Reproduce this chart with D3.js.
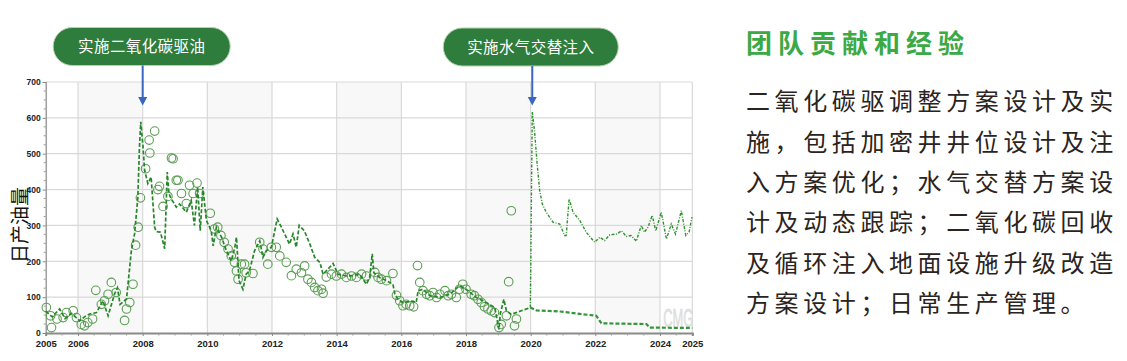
<!DOCTYPE html>
<html><head><meta charset="utf-8">
<script src="https://cdn.jsdelivr.net/npm/d3@7"></script>
<style>
html,body{margin:0;padding:0;background:#fff;}
svg{display:block;}
</style></head>
<body>
<svg id="chart" width="1127" height="361"></svg>
<script>
// ---------- data ----------
const yTicks = [0,100,200,300,400,500,600,700];
const xTicks = [2005,2006,2008,2010,2012,2014,2016,2018,2020,2022,2024,2025];
const yTitle = "日产油量";
const callouts = ["实施二氧化碳驱油","实施水气交替注入"];
const calloutYears = [2008.0, 2020.05];

const simYears = [2005.0,2005.2,2005.43,2005.6,2005.8,2006.05,2006.2,2006.36,2006.57,2006.77,2006.93,2007.13,2007.22,2007.3,2007.5,2007.55,2007.65,2007.75,2007.85,2007.9,2007.94,2008.01,2008.06,2008.16,2008.26,2008.37,2008.42,2008.55,2008.68,2008.76,2008.81,2008.88,2009.04,2009.14,2009.35,2009.5,2009.6,2009.7,2009.78,2009.86,2009.97,2010.12,2010.18,2010.28,2010.44,2010.59,2010.74,2010.85,2010.9,2010.98,2011.1,2011.2,2011.3,2011.46,2011.62,2011.72,2011.82,2011.98,2012.16,2012.29,2012.44,2012.54,2012.65,2012.75,2012.84,2013.0,2013.17,2013.32,2013.48,2013.58,2013.73,2013.89,2014.04,2014.3,2014.5,2014.71,2014.92,2015.02,2015.1,2015.15,2015.33,2015.54,2015.74,2015.8,2015.9,2016.05,2016.36,2016.46,2016.52,2016.67,2016.88,2017.19,2017.5,2017.8,2018.0,2018.32,2018.63,2018.89,2019.02,2019.06,2019.17,2019.25,2019.4,2019.71,2019.99];
const simOil = [61,45,67,40,55,34,45,53,57,90,48,109,126,80,95,140,230,277,378,518,589,519,454,417,435,295,283,281,235,449,389,375,351,360,337,370,300,407,285,407,314,285,243,295,267,229,201,239,267,146,122,164,173,229,257,211,229,239,318,295,267,248,276,239,300,285,248,211,197,164,178,194,164,159,160,164,136,155,221,168,155,146,136,108,94,85,89,85,118,122,104,99,108,132,122,99,85,71,10,53,94,62,52,62,71];

const baseYears = [2019.99,2020.18,2020.9,2022.03,2022.19,2023.58,2023.68,2025.0];
const baseOil = [71,63,60,48,27,25,15,14];

const wagYears = [2019.99,2020.05,2020.12,2020.2,2020.28,2020.36,2020.48,2020.69,2020.9,2021.05,2021.1,2021.19,2021.31,2021.52,2021.72,2021.98,2022.14,2022.29,2022.45,2022.66,2022.81,2022.96,2023.11,2023.27,2023.42,2023.52,2023.63,2023.76,2023.87,2024.04,2024.2,2024.35,2024.48,2024.66,2024.8,2024.9,2024.99];
const wagOil = [71,617,564,472,397,360,337,309,304,272,272,374,337,314,281,253,267,258,274,276,285,269,272,256,300,281,295,328,285,337,262,304,276,341,272,281,323];

const obsYears = [2005.02,2005.15,2005.18,2005.35,2005.54,2005.64,2005.85,2005.95,2006.1,2006.2,2006.3,2006.45,2006.55,2006.72,2006.82,2006.93,2007.03,2007.18,2007.44,2007.5,2007.6,2007.7,2007.78,2007.86,2007.93,2008.09,2008.2,2008.22,2008.37,2008.47,2008.52,2008.63,2008.78,2008.89,2008.94,2009.04,2009.09,2009.2,2009.35,2009.45,2009.56,2009.68,2009.76,2010.09,2010.22,2010.32,2010.42,2010.52,2010.64,2010.74,2010.84,2010.9,2010.95,2011.05,2011.15,2011.2,2011.41,2011.62,2011.72,2011.87,2011.98,2012.13,2012.24,2012.44,2012.6,2012.75,2012.91,2013.01,2013.11,2013.22,2013.32,2013.42,2013.53,2013.58,2013.68,2013.84,2013.99,2014.15,2014.3,2014.46,2014.61,2014.77,2014.92,2015.18,2015.28,2015.38,2015.54,2015.74,2015.85,2015.95,2016.05,2016.15,2016.26,2016.38,2016.5,2016.57,2016.67,2016.78,2016.88,2016.98,2017.09,2017.19,2017.35,2017.45,2017.55,2017.7,2017.8,2017.9,2018.0,2018.16,2018.26,2018.37,2018.47,2018.57,2018.68,2018.78,2018.88,2019.02,2019.09,2019.25,2019.32,2019.4,2019.5,2019.56];
const obsOil = [71,48,15,39,43,57,62,43,24,20,29,39,119,80,90,108,141,113,35,67,85,136,245,295,377,458,538,502,563,400,409,353,381,488,486,426,426,389,361,412,389,418,389,334,290,295,272,253,234,215,197,173,150,192,192,168,166,253,234,192,239,239,215,197,160,178,168,187,150,141,127,118,122,111,156,164,159,164,155,159,155,164,159,169,155,150,146,166,105,90,76,80,76,73,188,141,118,108,104,113,99,108,118,104,108,99,122,136,122,108,104,94,85,73,67,62,57,15,24,48,143,341,20,39];

const sideTitle = "团队贡献和经验";
const sideLines = ["二氧化碳驱调整方案设计及实","施，包括加密井井位设计及注","入方案优化；水气交替方案设","计及动态跟踪；二氧化碳回收","及循环注入地面设施升级改造","方案设计；日常生产管理。"];

// ---------- drawing ----------
const svg = d3.select("#chart");
const x = d3.scaleLinear().domain([2005,2025]).range([45.7,692.3]);
const y = d3.scaleLinear().domain([0,700]).range([333,82]);
const numFont = "'Liberation Sans Narrow','Arial Narrow','Liberation Sans',Arial,sans-serif";
const cjk = "'Noto Sans CJK SC','Noto Sans CJK JP',sans-serif";

// background bands
const bands = [[2006,2008],[2010,2012],[2014,2016],[2018,2020],[2022,2024]];
svg.append("g").selectAll("rect").data(bands).join("rect")
  .attr("x", d=>x(d[0])).attr("width", d=>x(d[1])-x(d[0]))
  .attr("y", y(700)).attr("height", y(0)-y(700))
  .attr("fill","#f8f8f8");

// grid
const grid = svg.append("g");
grid.selectAll(".hg").data(yTicks.filter(d=>d>0)).join("line")
  .attr("x1", x(2005)).attr("x2", x(2025))
  .attr("y1", d=>y(d)).attr("y2", d=>y(d))
  .attr("stroke","#d9d9d9").attr("stroke-width",1.2);
grid.selectAll(".vg").data(xTicks.filter(d=>d>2005)).join("line")
  .attr("x1", d=>x(d)).attr("x2", d=>x(d))
  .attr("y1", y(700)).attr("y2", y(0))
  .attr("stroke","#d9d9d9").attr("stroke-width",1.2);

// axes
const yAxis = svg.append("g").attr("transform",`translate(${x(2005)},0)`)
  .call(d3.axisLeft(y).tickValues(yTicks).tickSize(3).tickPadding(2));
yAxis.select(".domain").attr("stroke","#888").attr("stroke-width",1.2);
yAxis.selectAll(".tick line").attr("stroke","#888");
yAxis.selectAll("text").attr("font-family",numFont).attr("font-weight","bold").attr("font-size","8.5px").attr("fill","#222");
// minor y ticks
svg.append("g").selectAll("line").data(d3.range(0,701,25).filter(d=>d%100)).join("line")
  .attr("x1", x(2005)-2).attr("x2", x(2005)).attr("y1", d=>y(d)).attr("y2", d=>y(d))
  .attr("stroke","#999");

const xAxis = svg.append("g").attr("transform",`translate(0,${y(0)})`)
  .call(d3.axisBottom(x).tickValues(xTicks).tickFormat(d3.format("d")).tickSize(3).tickPadding(4));
xAxis.select(".domain").attr("stroke","#8a8a8a").attr("stroke-width",2);
xAxis.selectAll(".tick line").attr("stroke","#888");
xAxis.selectAll("text").attr("font-family",numFont).attr("font-weight","bold").attr("font-size","9.5px").attr("fill","#222");
svg.append("g").selectAll("line").data(d3.range(2005.5,2025,0.5).filter(d=>!xTicks.includes(d))).join("line")
  .attr("x1", d=>x(d)).attr("x2", d=>x(d)).attr("y1", y(0)).attr("y2", y(0)+2.5)
  .attr("stroke","#999");

// y title
svg.append("text").attr("transform",`translate(18,225) rotate(-90)`)
  .attr("text-anchor","middle").attr("dominant-baseline","central")
  .attr("font-family",cjk).attr("font-size","19px").attr("fill","#111").text(yTitle);

// watermark
svg.append("text").attr("x", x(2024.1)).attr("y", y(17))
  .attr("font-family",numFont).attr("font-size","26px")
  .attr("textLength",30).attr("lengthAdjust","spacingAndGlyphs")
  .attr("fill","#e4e4e4").attr("stroke","#d4d4d4").attr("stroke-width",0.6).text("CMG");

// observed circles
svg.append("g").selectAll("circle").data(d3.zip(obsYears,obsOil)).join("circle")
  .attr("cx", d=>x(d[0])).attr("cy", d=>y(d[1])).attr("r",4.3)
  .attr("fill","none").attr("stroke","#5c9e54").attr("stroke-width",1.1);

const line = d3.line().x(d=>x(d[0])).y(d=>y(d[1]));
svg.append("path").datum(d3.zip(simYears,simOil)).attr("d",line)
  .attr("fill","none").attr("stroke","#26862a").attr("stroke-width",1.7).attr("stroke-dasharray","4,2");
svg.append("path").datum(d3.zip(baseYears,baseOil)).attr("d",line)
  .attr("fill","none").attr("stroke","#35953a").attr("stroke-width",2.2).attr("stroke-dasharray","4,2");
svg.append("path").datum(d3.zip(wagYears,wagOil)).attr("d",line)
  .attr("fill","none").attr("stroke","#2f922f").attr("stroke-width",1.4).attr("stroke-dasharray","3,1.5,1,1.5");

// callouts
const pillW = [177, 175], pillCY = [46.5, 47];
callouts.forEach((t,i)=>{
  const cx = x(calloutYears[i]) - (i===0?1:1.5);
  const g = svg.append("g");
  g.append("rect").attr("x", cx - pillW[i]/2).attr("y", pillCY[i]-19).attr("width", pillW[i]).attr("height", 38)
    .attr("rx",19).attr("fill","#2f7d3c").attr("stroke","#b5d2ad").attr("stroke-width",1);
  g.append("text").attr("x", cx).attr("y", pillCY[i] + 0.38*15.5)
    .attr("text-anchor","middle").attr("font-family",cjk).attr("font-size","15.5px")
    .attr("fill","#fff").attr("letter-spacing","0.4px").text(t);
  const ax = x(calloutYears[i]);
  g.append("line").attr("x1",ax).attr("x2",ax).attr("y1",pillCY[i]+19).attr("y2",98)
    .attr("stroke","#3a66c0").attr("stroke-width",2);
  g.append("path").attr("d",`M${ax-4.5},97 L${ax+4.5},97 L${ax},105.5 Z`).attr("fill","#3a66c0");
});

// side text
svg.append("text").attr("x",746).attr("y",43+0.38*26)
  .attr("font-family",cjk).attr("font-weight","bold").attr("font-size","26px")
  .attr("letter-spacing","6px").attr("fill","#3aa946").text(sideTitle);
svg.append("g").selectAll("text").data(sideLines).join("text")
  .attr("x",746).attr("y",(d,i)=>101 + 40.4*i + 0.38*24)
  .attr("font-family",cjk).attr("font-size","24px").attr("letter-spacing","4.6px")
  .attr("fill","#2a2320").text(d=>d);
</script>
</body></html>
